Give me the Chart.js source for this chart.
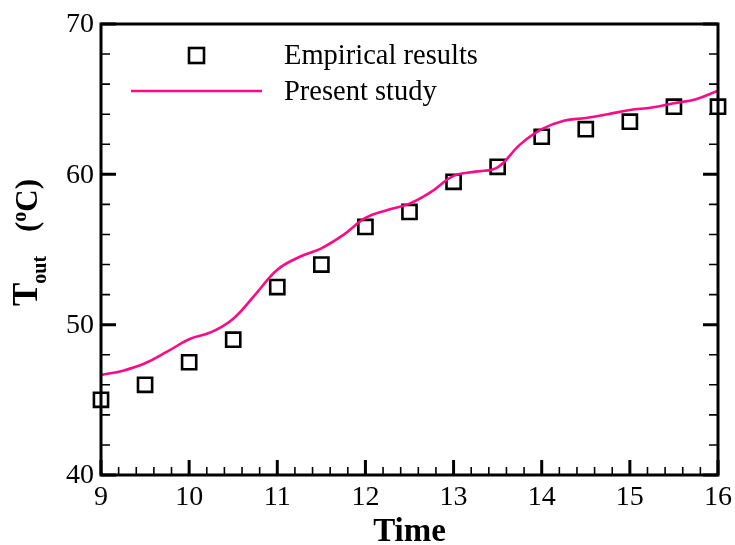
<!DOCTYPE html>
<html>
<head>
<meta charset="utf-8">
<script src="https://cdn.jsdelivr.net/npm/chart.js@4/dist/chart.umd.min.js"></script>
<style>
  html, body { margin: 0; padding: 0; background: #fff; }
  #wrap { width: 735px; height: 545px; }
</style>
</head>
<body>
<div id="wrap"><canvas id="chart"></canvas></div>
<script>
'use strict';

// empirical points (squares)
var empTime = [9, 9.5, 10, 10.5, 11, 11.5, 12, 12.5, 13, 13.5, 14, 14.5, 15, 15.5, 16];
var empTout = [45.0, 46.0, 47.5, 49.0, 52.5, 54.0, 56.5, 57.5, 59.5, 60.5, 62.5, 63.0, 63.5, 64.5, 64.5];

// present study curve, read every quarter hour
var studyTime = [9, 9.25, 9.5, 9.75, 10, 10.25, 10.5, 10.75, 11, 11.25, 11.5, 11.75, 12, 12.25, 12.5,
	12.75, 13, 13.25, 13.5, 13.75, 14, 14.25, 14.5, 14.75, 15, 15.25, 15.5, 15.75, 16];
var studyTout = [46.65, 46.94, 47.43, 48.2, 49.03, 49.5, 50.4, 52.0, 53.65, 54.5, 55.08, 55.97, 57.1, 57.63, 58.05,
	58.85, 59.9, 60.18, 60.47, 61.96, 63.0, 63.57, 63.75, 64.0, 64.28, 64.45, 64.73, 65.0, 65.57];

var xTicks = [9, 10, 11, 12, 13, 14, 15, 16];
var yTicks = [40, 50, 60, 70];

var legendLabels = ['Empirical results', 'Present study'];
var xTitle = 'Time';

var PINK = '#ff0a84';
var SERIF = '"Liberation Serif", "Times New Roman", serif';

function toPoints(xs, ys) {
	var pts = [];
	for (var i = 0; i < xs.length; i++) {
		pts.push({x: xs[i], y: ys[i]});
	}
	return pts;
}

// frame, inward ticks, tick labels, titles and legend
var decorations = {
	id: 'decorations',
	afterDraw: function(chart) {
		var ctx = chart.ctx;
		var a = chart.chartArea;
		var xs = chart.scales.x;
		var ys = chart.scales.y;
		var v, p, i, major;

		ctx.save();
		ctx.strokeStyle = '#000';
		ctx.fillStyle = '#000';

		// minor + major ticks on x (bottom only)
		for (i = 0; i <= 35; i++) {
			v = 9 + i * 0.2;
			major = i % 5 === 0;
			p = xs.getPixelForValue(v);
			ctx.lineWidth = major ? 3 : 1.6;
			ctx.beginPath();
			ctx.moveTo(p, a.bottom);
			ctx.lineTo(p, a.bottom - (major ? 15 : 8));
			ctx.stroke();
		}
		// y ticks on left and right
		for (i = 0; i <= 15; i++) {
			v = 40 + i * 2;
			major = i % 5 === 0;
			p = ys.getPixelForValue(v);
			ctx.lineWidth = major ? 3 : 1.6;
			ctx.beginPath();
			ctx.moveTo(a.left, p);
			ctx.lineTo(a.left + (major ? 15 : 9), p);
			ctx.moveTo(a.right, p);
			ctx.lineTo(a.right - (major ? 15 : 9), p);
			ctx.stroke();
		}

		// frame
		ctx.lineWidth = 3;
		ctx.strokeRect(a.left, a.top, a.right - a.left, a.bottom - a.top);

		// tick labels
		ctx.font = '28px ' + SERIF;
		ctx.textAlign = 'center';
		ctx.textBaseline = 'top';
		xTicks.forEach(function(t) {
			ctx.fillText(String(t), xs.getPixelForValue(t), a.bottom + 9);
		});
		ctx.textAlign = 'right';
		ctx.textBaseline = 'middle';
		yTicks.forEach(function(t) {
			ctx.fillText(String(t), a.left - 7, ys.getPixelForValue(t) + 1);
		});

		// x title
		ctx.font = 'bold 33px ' + SERIF;
		ctx.textAlign = 'center';
		ctx.textBaseline = 'alphabetic';
		ctx.fillText(xTitle, (a.left + a.right) / 2, 541);

		// y title: T_out (oC), rotated
		ctx.save();
		ctx.translate(37, 306);
		ctx.rotate(-Math.PI / 2);
		ctx.textAlign = 'left';
		ctx.font = 'bold 35px ' + SERIF;
		ctx.fillText('T', 0, 0);
		var w = ctx.measureText('T').width;
		ctx.font = 'bold 20px ' + SERIF;
		ctx.fillText('out', w - 1, 9);
		var x0 = 74;
		ctx.font = 'bold 31px ' + SERIF;
		ctx.fillText('(', x0, 0);
		x0 += ctx.measureText('(').width;
		ctx.font = 'bold 20px ' + SERIF;
		ctx.fillText('o', x0, -11);
		x0 += ctx.measureText('o').width;
		ctx.font = 'bold 31px ' + SERIF;
		ctx.fillText('C)', x0, 0);
		ctx.restore();

		// legend
		var ds0 = chart.data.datasets[0];
		var ds1 = chart.data.datasets[1];
		ctx.lineWidth = ds0.borderWidth;
		ctx.strokeStyle = ds0.pointBorderColor;
		ctx.strokeRect(189, 48, 15, 15);
		ctx.strokeStyle = ds1.borderColor;
		ctx.lineWidth = ds1.borderWidth;
		ctx.beginPath();
		ctx.moveTo(131, 91);
		ctx.lineTo(262, 91);
		ctx.stroke();
		ctx.font = '28.5px ' + SERIF;
		ctx.fillStyle = '#000';
		ctx.textAlign = 'left';
		ctx.textBaseline = 'alphabetic';
		ctx.fillText(legendLabels[0], 284, 64);
		ctx.fillText(legendLabels[1], 284, 100);

		ctx.restore();
	}
};

new Chart(document.getElementById('chart'), {
	type: 'scatter',
	data: {
		datasets: [
			{
				label: legendLabels[0],
				data: toPoints(empTime, empTout),
				pointStyle: 'rect',
				pointRadius: 10,
				pointHoverRadius: 10,
				pointBorderWidth: 2.6,
				borderWidth: 2.6,
				pointBorderColor: '#000',
				pointBackgroundColor: 'rgba(0,0,0,0)',
				showLine: false,
				clip: false,
				order: 1
			},
			{
				label: legendLabels[1],
				data: toPoints(studyTime, studyTout),
				showLine: true,
				borderColor: PINK,
				borderWidth: 2.6,
				pointRadius: 0,
				tension: 0.4,
				clip: false,
				order: 0
			}
		]
	},
	options: {
		responsive: true,
		maintainAspectRatio: false,
		animation: false,
		events: [],
		layout: {
			padding: {left: 101, right: 17, top: 24, bottom: 70}
		},
		plugins: {
			legend: {display: false},
			tooltip: {enabled: false}
		},
		scales: {
			x: {type: 'linear', min: 9, max: 16, display: false},
			y: {type: 'linear', min: 40, max: 70, display: false}
		}
	},
	plugins: [decorations]
});
</script>
</body>
</html>
